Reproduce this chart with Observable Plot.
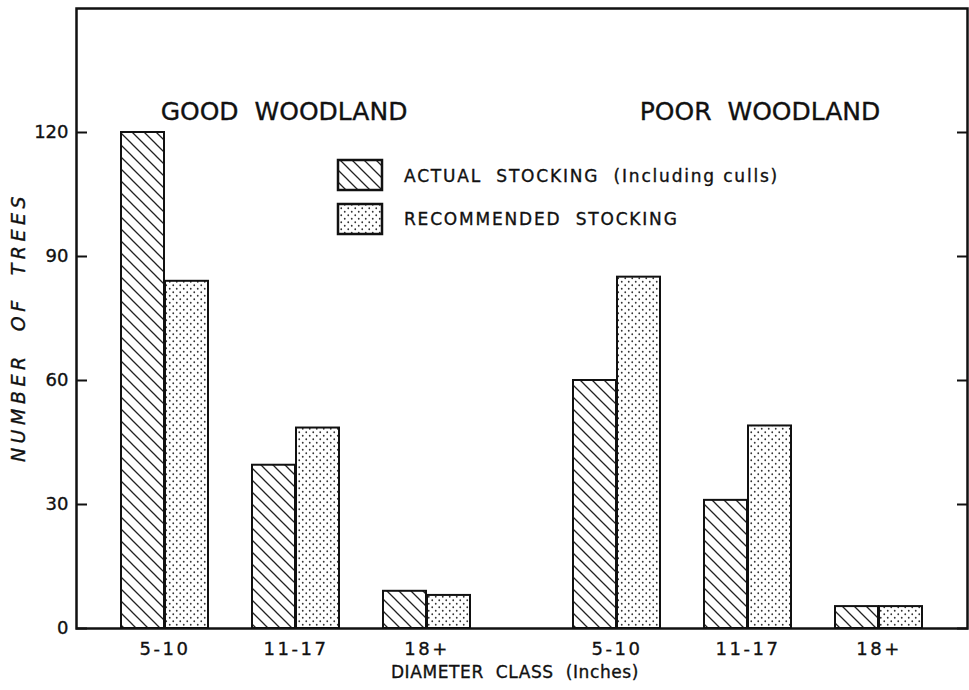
<!DOCTYPE html>
<html><head><meta charset="utf-8">
<script src="https://cdn.jsdelivr.net/npm/d3@7"></script>
<script src="https://cdn.jsdelivr.net/npm/@observablehq/plot@0.6"></script>
<style>
body{margin:0;background:#fff;}
#chart svg{display:block;}
#chart [aria-label="x-axis tick label"] text{letter-spacing:2.5px;}
#chart text{stroke:#111;stroke-width:0.35px;}
</style></head><body><div id="chart"></div>
<script>
const woodlands = ["GOOD  WOODLAND", "POOR  WOODLAND"];
const diameterClasses = ["5-10", "11-17", "18+"];
const seriesNames = ["ACTUAL  STOCKING  (Including culls)", "RECOMMENDED  STOCKING"];
const goodActual = [120, 39.5, 9];
const goodRecommended = [84, 48.5, 8];
const poorActual = [60, 31, 5.3];
const poorRecommended = [85, 49, 5.3];
const yTicks = [0, 30, 60, 90, 120];
const yLabel = "NUMBER  OF  TREES";
const xLabel = "DIAMETER  CLASS  (Inches)";

const rows = [];
[[goodActual, goodRecommended], [poorActual, poorRecommended]].forEach(([a, r], wi) => {
  diameterClasses.forEach((c, ci) => {
    rows.push({woodland: woodlands[wi], cls: c, series: seriesNames[0], value: a[ci]});
    rows.push({woodland: woodlands[wi], cls: c, series: seriesNames[1], value: r[ci]});
  });
});
const FONT = "'DejaVu Sans', sans-serif";
const HALF = 44;

const chart = Plot.plot({
  width: 969, height: 690,
  marginLeft: 76, marginRight: 2, marginTop: 8, marginBottom: 62,
  style: {fontFamily: FONT, fontSize: "17px", color: "#111", background: "#fff"},
  fx: {domain: woodlands, paddingInner: 0.0288, paddingOuter: 0, axis: null},
  x: {domain: diameterClasses, paddingInner: 1/3, paddingOuter: 0.33},
  y: {domain: [0, 150]},
  marks: [
    Plot.barY(rows.filter(d => d.series === seriesNames[0]), {fx: "woodland", x: "cls", y: "value", fill: "url(#hatch)", stroke: "#111", strokeWidth: 2, insetRight: HALF}),
    Plot.barY(rows.filter(d => d.series === seriesNames[1]), {fx: "woodland", x: "cls", y: "value", fill: "url(#dots)", stroke: "#111", strokeWidth: 2, insetLeft: HALF}),
    Plot.axisY(yTicks, {anchor: "left", tickSize: -11, tickPadding: 19, strokeWidth: 2, fontSize: 18, label: null}),
    Plot.axisY(yTicks, {anchor: "right", tickSize: -11, tickFormat: () => "", strokeWidth: 2, label: null}),
    Plot.axisX({tickSize: 0, tickPadding: 14, fontSize: 18, label: null}),
    Plot.text([woodlands[0]], {fx: d => d, text: d => d, frameAnchor: "top", dy: 94, dx: -12, fontSize: 25, letterSpacing: 4}),
    Plot.text([woodlands[1]], {fx: d => d, text: d => d, frameAnchor: "top", dy: 94, dx: 12, fontSize: 25, letterSpacing: 4}),
    Plot.frame({facet: "super", strokeWidth: 2.5, stroke: "#111"})
  ]
});

const svg = d3.select(chart);
const defs = svg.insert("defs", ":first-child");
const hatch = defs.append("pattern").attr("id", "hatch").attr("patternUnits", "userSpaceOnUse")
  .attr("width", 12).attr("height", 12);
hatch.append("rect").attr("width", 12).attr("height", 12).attr("fill", "#fff");
hatch.append("path").attr("d", "M0,0L12,12M-2,10L2,14M10,-2L14,2").attr("stroke", "#222").attr("stroke-width", 1.3);
const dots = defs.append("pattern").attr("id", "dots").attr("patternUnits", "userSpaceOnUse")
  .attr("width", 7).attr("height", 7);
dots.append("rect").attr("width", 7).attr("height", 7).attr("fill", "#fff");
dots.append("circle").attr("cx", 1.75).attr("cy", 1.75).attr("r", 0.9).attr("fill", "#333");
dots.append("circle").attr("cx", 5.25).attr("cy", 5.25).attr("r", 0.9).attr("fill", "#333");

// legend
const lg = svg.append("g").attr("font-family", FONT).attr("font-size", 17).attr("letter-spacing", "1.8px")
  .attr("fill", "#111").attr("text-anchor", "start");
[["url(#hatch)", 160, seriesNames[0], 182], ["url(#dots)", 204, seriesNames[1], 225]].forEach(([f, y, t, ty]) => {
  lg.append("rect").attr("x", 338).attr("y", y).attr("width", 44).attr("height", 30).attr("fill", f).attr("stroke", "#111").attr("stroke-width", 2.5);
  lg.append("text").attr("x", 404).attr("y", ty).attr("text-anchor", "start").text(t);
});
// axis titles
svg.append("text").attr("transform", "translate(25,327) rotate(-90)").attr("text-anchor", "middle")
  .attr("font-family", FONT).attr("font-style", "italic").attr("font-size", 19).attr("letter-spacing", "4.5px").attr("fill", "#111").text(yLabel);
svg.append("text").attr("x", 515).attr("y", 678).attr("text-anchor", "middle")
  .attr("font-family", FONT).attr("font-size", 17).attr("letter-spacing", "0.6px").attr("fill", "#111").text(xLabel);

document.getElementById("chart").appendChild(chart);
</script></body></html>
